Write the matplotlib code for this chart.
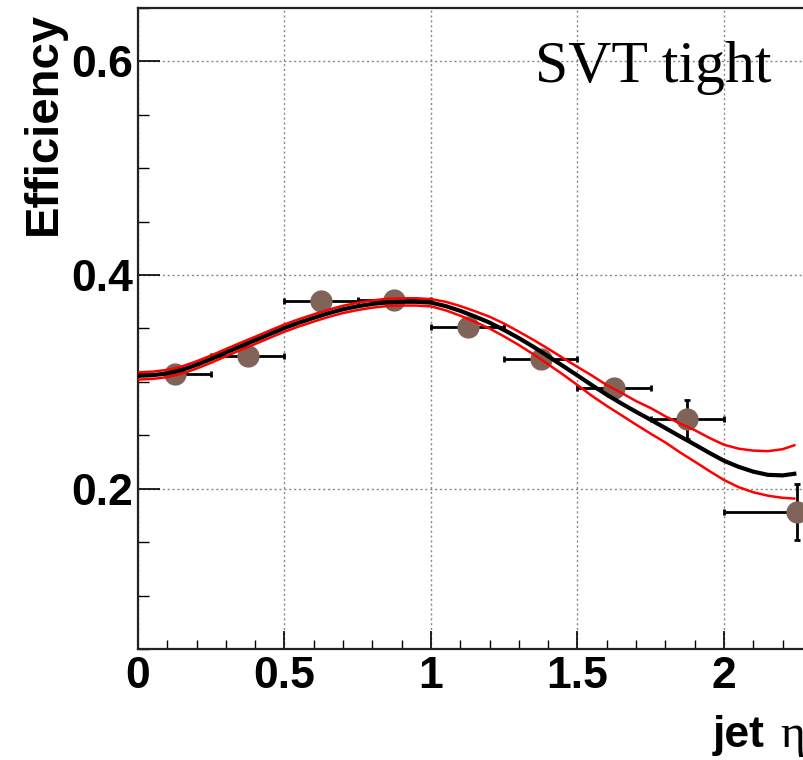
import numpy as np
import matplotlib
matplotlib.use("Agg")
import matplotlib.pyplot as plt
from matplotlib.ticker import MultipleLocator

# data points (bin centres, bin half widths, efficiency, error)
eta = [0.125, 0.375, 0.625, 0.875, 1.125, 1.375, 1.625, 1.875, 2.25]
eta_err = [0.125, 0.125, 0.125, 0.125, 0.125, 0.125, 0.125, 0.125, 0.25]
eff = [0.307, 0.324, 0.376, 0.377, 0.351, 0.321, 0.294, 0.265, 0.178]
eff_err = [0.004, 0.005, 0.005, 0.005, 0.005, 0.006, 0.008, 0.018, 0.026]

# fit curve and its band
fit_x = [0.00, 0.05, 0.10, 0.15, 0.20, 0.25, 0.30, 0.35, 0.40, 0.45,
         0.50, 0.55, 0.60, 0.65, 0.70, 0.75, 0.80, 0.85, 0.90, 0.95,
         1.00, 1.05, 1.10, 1.15, 1.20, 1.25, 1.30, 1.35, 1.40, 1.45,
         1.50, 1.55, 1.60, 1.65, 1.70, 1.75, 1.80, 1.85, 1.90, 1.95,
         2.00, 2.05, 2.10, 2.15, 2.20, 2.24]
fit_y = [0.3057, 0.3063, 0.3080, 0.3112, 0.3160, 0.3215, 0.3275, 0.3333, 0.3390, 0.3448,
         0.3505, 0.3555, 0.3600, 0.3643, 0.3680, 0.3708, 0.3730, 0.3745, 0.3750, 0.3750,
         0.3742, 0.3710, 0.3665, 0.3612, 0.3555, 0.3485, 0.3410, 0.3328, 0.3240, 0.3150,
         0.3060, 0.2968, 0.2880, 0.2798, 0.2720, 0.2645, 0.2568, 0.2490, 0.2414, 0.2336,
         0.2262, 0.2205, 0.2160, 0.2130, 0.2125, 0.2140]
fit_up = [0.3090, 0.3096, 0.3113, 0.3145, 0.3193, 0.3248, 0.3308, 0.3366, 0.3423, 0.3481,
          0.3538, 0.3588, 0.3633, 0.3676, 0.3713, 0.3741, 0.3763, 0.3778, 0.3783, 0.3783,
          0.3775, 0.3750, 0.3710, 0.3662, 0.3610, 0.3545, 0.3470, 0.3393, 0.3310, 0.3225,
          0.3140, 0.3058, 0.2970, 0.2898, 0.2820, 0.2755, 0.2678, 0.2610, 0.2549, 0.2476,
          0.2412, 0.2375, 0.2357, 0.2352, 0.2370, 0.2407]
fit_lo = [0.3022, 0.3028, 0.3045, 0.3077, 0.3125, 0.3180, 0.3240, 0.3298, 0.3355, 0.3413,
          0.3470, 0.3520, 0.3565, 0.3608, 0.3645, 0.3673, 0.3695, 0.3710, 0.3715, 0.3715,
          0.3707, 0.3670, 0.3620, 0.3562, 0.3500, 0.3425, 0.3345, 0.3258, 0.3165, 0.3070,
          0.2970, 0.2868, 0.2775, 0.2688, 0.2600, 0.2515, 0.2433, 0.2340, 0.2254, 0.2166,
          0.2082, 0.2015, 0.1967, 0.1935, 0.1915, 0.1908]

W, H = 804, 760
fig = plt.figure(figsize=(W/100, H/100), dpi=100)
# frame goes on past the right edge, like the cropped original
ax = fig.add_axes([138/W, (H-649)/H, 732.5/W, 641/H])

ax.set_xlim(0, 2.5)
ax.set_ylim(0.05, 0.65)

ax.grid(True, color="#888888", linestyle=(0, (1.5, 2)), linewidth=1.0)
ax.set_axisbelow(True)

ax.errorbar(eta, eff, xerr=eta_err, yerr=eff_err, fmt="o", color="#80645a",
            markersize=15, ecolor="black", elinewidth=2.0, capsize=2.5,
            capthick=2.0, zorder=3)

ax.plot(fit_x, fit_up, color="red", lw=1.8, zorder=4)
ax.plot(fit_x, fit_lo, color="red", lw=1.8, zorder=4)
ax.plot(fit_x, fit_y, color="black", lw=3.0, zorder=5)

ax.xaxis.set_major_locator(MultipleLocator(0.5))
ax.xaxis.set_minor_locator(MultipleLocator(0.1))
ax.yaxis.set_major_locator(MultipleLocator(0.2))
ax.yaxis.set_minor_locator(MultipleLocator(0.05))
ax.set_xticks([0, 0.5, 1, 1.5, 2])
ax.set_xticklabels(["0", "0.5", "1", "1.5", "2"])
ax.set_yticks([0.2, 0.4, 0.6])
ax.set_yticklabels(["0.2", "0.4", "0.6"])

ax.tick_params(axis="x", which="major", direction="in", length=13, width=1.2, pad=5)
ax.tick_params(axis="x", which="minor", direction="in", length=6.7, width=1.0)
ax.tick_params(axis="y", which="major", direction="in", length=16, width=1.2, pad=3.6)
ax.tick_params(axis="y", which="minor", direction="in", length=7.7, width=1.0)
for lab in ax.get_xticklabels() + ax.get_yticklabels():
    lab.set_fontfamily("Liberation Sans")
    lab.set_fontweight("bold")
    lab.set_fontsize(32)

for s in ax.spines.values():
    s.set_linewidth(1.6)
    s.set_color("#222222")

fig.text(22/W, 1-12/H, "Efficiency", rotation=90, ha="left", va="top",
         family="Liberation Sans", weight="bold", fontsize=34)
fig.text(713/W, 13/H, "jet", ha="left", va="baseline",
         family="Liberation Sans", weight="bold", fontsize=32)
fig.text(780/W, 13/H, "\u03b7", ha="left", va="baseline",
         family="Liberation Serif", fontsize=34)
fig.text(535/W, 1-82/H, "SVT tight", ha="left", va="baseline",
         family="Liberation Serif", fontsize=43)

fig.savefig("out.png", dpi=100)
